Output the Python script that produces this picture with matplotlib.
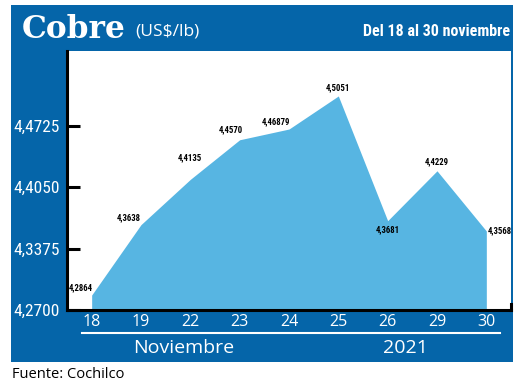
import matplotlib
matplotlib.use("Agg")
import matplotlib.pyplot as plt
from matplotlib.patches import Rectangle
from matplotlib.lines import Line2D
from matplotlib import font_manager
import numpy as np

days = ["18", "19", "22", "23", "24", "25", "26", "29", "30"]
prices = [4.2864, 4.3638, 4.4135, 4.4570, 4.46879, 4.5051, 4.3681, 4.4229, 4.3568]
price_labels = ["4,2864", "4,3638", "4,4135", "4,4570", "4,46879", "4,5051", "4,3681", "4,4229", "4,3568"]
yticks = [4.2700, 4.3375, 4.4050, 4.4725]
ytick_labels = ["4,2700", "4,3375", "4,4050", "4,4725"]

available = {f.name for f in font_manager.fontManager.ttflist}
narrow_pref = ["Liberation Sans Narrow", "DejaVu Sans Condensed", "Roboto Condensed",
               "Open Sans Condensed", "Noto Sans Condensed"]
NARROW = next((n for n in narrow_pref if n in available), None)
narrow_found = NARROW is not None
if NARROW is None:
    NARROW = "Liberation Sans"

BLUE = "#0565a9"
LIGHT = "#57b5e2"
W, H = 520, 388

fig = plt.figure(figsize=(5.2, 3.88), dpi=100)
fig.patch.set_facecolor("white")

def fx(x): return x / W
def fy(y): return 1 - y / H

# blue panel
fig.patches.append(Rectangle((fx(11), fy(362)), fx(513) - fx(11), fy(5) - fy(362),
                             transform=fig.transFigure, facecolor=BLUE, edgecolor="none", zorder=-5))

ax = fig.add_axes([fx(67), fy(310), fx(511) - fx(67), fy(51) - fy(310)])
ax.set_zorder(2)
ax.set_facecolor("white")
x = np.arange(len(days))
ax.fill_between(x, prices, 4.27, color=LIGHT, linewidth=0, zorder=2)
ax.set_xlim(-0.5, 8.5)
ax.set_ylim(4.27, 4.5545)

for s in ["top", "right"]:
    ax.spines[s].set_visible(False)
for s in ["left", "bottom"]:
    ax.spines[s].set_color("black")
    ax.spines[s].set_linewidth(2.2)
    ax.spines[s].set_zorder(5)

ysize = 12.5 if narrow_found else 11
ax.set_yticks(yticks)
ax.set_yticklabels(ytick_labels, family=[NARROW, "DejaVu Sans"],
                   fontsize=ysize, color="white")
ax.tick_params(axis="y", direction="in", length=9, width=2.2, color="black", pad=5)
ax.set_xticks(x)
ax.set_xticklabels(days, family=["Open Sans", "DejaVu Sans"], fontsize=11.5, color="white")
ax.tick_params(axis="x", length=0, pad=3)

# right hook at the end of x axis
ax.add_line(Line2D([1.0, 1.0], [0, 0.025], transform=ax.transAxes, color="black",
                   lw=2.2, clip_on=False, zorder=6))

lsize = 6.3 if narrow_found else 5.8
offsets = [(1, 2, "right", "bottom"), (0, 2, "right", "bottom"), (0, 12, "center", "bottom"),
           (2, 4, "right", "bottom"), (1, 2, "right", "bottom"), (0, 3, "center", "bottom"),
           (0, -3, "center", "top"), (0, 3, "center", "bottom"), (1, 0, "left", "center")]
for xi, v, lab, (dx, dy, ha, va) in zip(x, prices, price_labels, offsets):
    ax.annotate(lab, (xi, v), xytext=(dx, dy), textcoords="offset points", ha=ha, va=va,
                fontsize=lsize, fontweight="bold", color="black",
                family=[NARROW, "DejaVu Sans"], zorder=7, annotation_clip=False)

# header texts
fig.text(fx(22), fy(30), "Cobre", family=["DejaVu Serif"], fontweight="bold",
         fontsize=22.5, color="white", va="center", ha="left")
fig.text(fx(135), fy(31), "(US$/lb)", family=["Open Sans", "DejaVu Sans"],
         fontsize=12.5, color="white", va="center", ha="left")
hsize = 11.5 if narrow_found else 10
fig.text(fx(510), fy(31), "Del 18 al 30 noviembre", family=[NARROW, "DejaVu Sans"],
         fontweight="bold", fontsize=hsize, color="white", va="center", ha="right")

# bottom texts
fig.add_artist(Line2D([fx(82), fx(500)], [fy(333), fy(333)], transform=fig.transFigure,
                      color="white", lw=1.5))
fig.text(fx(184), fy(348), "Noviembre", family=["Open Sans", "DejaVu Sans"],
         fontsize=14, color="white", va="center", ha="center")
fig.text(fx(405), fy(348), "2021", family=["Open Sans", "DejaVu Sans"],
         fontsize=14, color="white", va="center", ha="center")
fig.text(fx(12), fy(374), "Fuente: Cochilco", family=["Open Sans", "DejaVu Sans"],
         fontsize=10.5, color="black", va="center", ha="left")

fig.savefig("out.png", dpi=100, facecolor="white")
